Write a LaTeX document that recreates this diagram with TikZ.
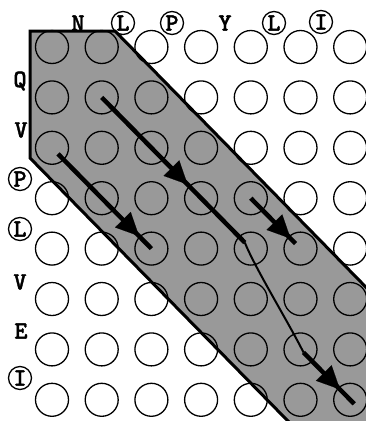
\documentclass[tikz,border=0pt]{standalone}
\usepackage{fontspec}
\newfontfamily\labfont{lmmonolt10-bold}[Extension=.otf,FakeBold=1.5]
\usetikzlibrary{arrows.meta,decorations.markings,calc}
\definecolor{bandgray}{RGB}{153,153,153}
\begin{document}
\begin{tikzpicture}[x=1pt,y=-1pt,
  cell/.style={circle,draw,line width=1.3pt,minimum size=33pt,inner sep=0pt},
  lab/.style={font=\labfont\fontsize{25}{25}\selectfont,inner sep=0pt},
  clab/.style={lab,circle,draw,line width=1.3pt,minimum size=23pt},
  band/.style={fill=bandgray,draw=black,line width=3pt,line join=miter},
  thickarrow/.style={line width=4.5pt,postaction={decorate},
    decoration={markings,mark=at position #1 with {\arrow{Triangle[length=23pt,width=22pt,line width=0.1pt]}}}},
  thinline/.style={line width=2pt}]
\useasboundingbox (0,0) rectangle (366,421);
\begin{scope}
  \clip (0,0) rectangle (366,421);
  \draw[band] (30,31) -- (115,31) -- (500,424) -- (500,520) -- (385,520) -- (30,158) -- cycle;
\end{scope}
% grid of circles
\foreach \i in {0,...,7}{
  \foreach \j in {0,...,6}{
    \node[cell] (c-\i-\j) at ({52+49.7*\j},{47+50.4*\i}) {};
  }
}
% top labels
\node[lab]  (t1) at (78,23) {N};
\node[clab] (t2) at (123,23) {L};
\node[clab] (t3) at (172,23) {P};
\node[lab]  (t4) at (225,23) {Y};
\node[clab] (t5) at (274,23) {L};
\node[clab] (t6) at (321,22) {I};
% left labels
\node[lab]  (l1) at (20,81) {Q};
\node[lab]  (l2) at (21,130) {V};
\node[clab] (l3) at (20,179) {P};
\node[clab] (l4) at (20,229) {L};
\node[lab]  (l5) at (20,282) {V};
\node[lab]  (l6) at (21,331) {E};
\node[clab] (l7) at (20,378) {I};
% path points
\coordinate (a1s) at (c-1-1.center);
\coordinate (a1e) at ($(c-1-1.center)!0.96!(c-4-4.center)$);
\coordinate (a2s) at ($(c-2-0.center)!0.06!(c-4-2.center)$);
\coordinate (a2e) at (c-4-2.center);
\coordinate (a3s) at (c-3-4.center);
\coordinate (a3e) at ($(c-3-4.center)!0.9!(c-4-5.center)$);
\coordinate (a4s) at ($(c-6-5.center)!0.06!(c-7-6.center)$);
\coordinate (a4e) at ($(c-6-5.center)!1.08!(c-7-6.center)$);
\coordinate (k1) at (255,268);
\coordinate (k2) at (290,325);
% arrows
\draw[thickarrow=0.6] (a1s) -- (a1e);
\draw[thinline] (a1e) .. controls (k1) and (k2) .. (a4s);
\draw[thickarrow=0.72] (a4s) -- (a4e);
\draw[thickarrow=0.87] (a2s) -- (a2e);
\draw[thickarrow=0.89] (a3s) -- (a3e);
\end{tikzpicture}
\end{document}
